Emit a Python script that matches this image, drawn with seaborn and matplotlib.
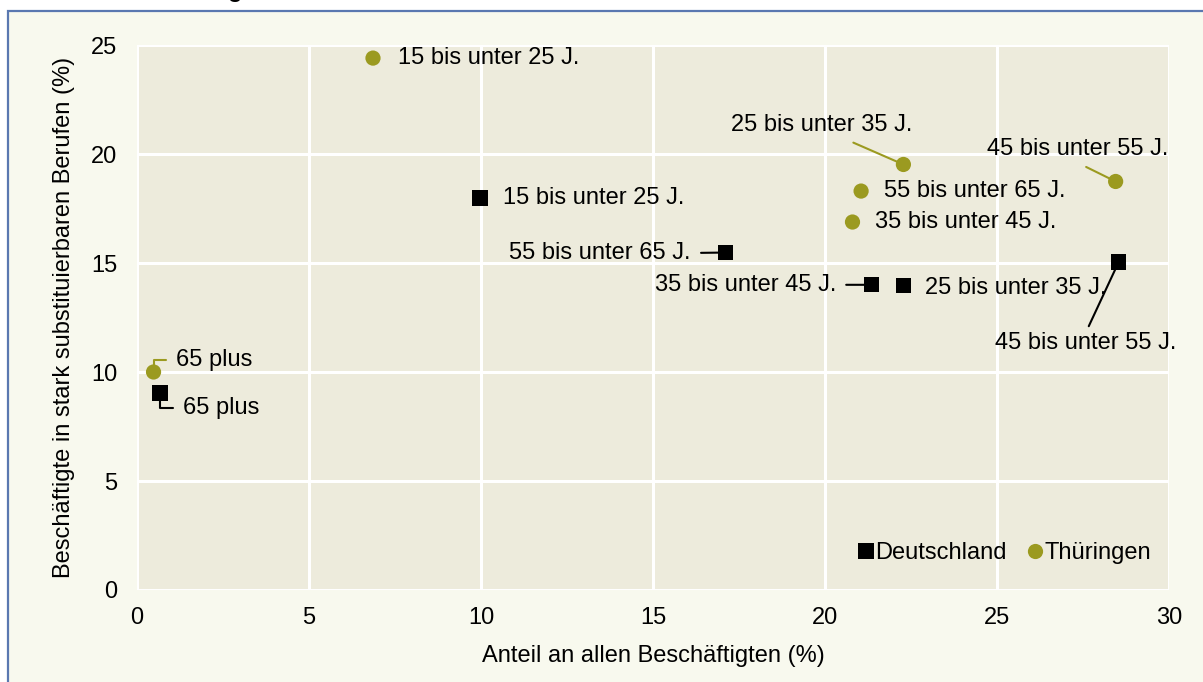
import pandas as pd
import matplotlib.pyplot as plt
import matplotlib.patches as mpatches
import seaborn as sns

# Daten
gruppen = ['15 bis unter 25 J.', '25 bis unter 35 J.', '35 bis unter 45 J.',
           '45 bis unter 55 J.', '55 bis unter 65 J.', '65 plus']
de_anteil = [9.97, 22.28, 21.35, 28.54, 17.10, 0.67]
de_subst = [17.98, 13.97, 14.0, 15.05, 15.48, 9.04]
th_anteil = [6.86, 22.28, 20.80, 28.45, 21.05, 0.48]
th_subst = [24.4, 19.52, 16.88, 18.74, 18.3, 10.0]

df = pd.concat([
    pd.DataFrame({'gruppe': gruppen, 'anteil': de_anteil, 'subst': de_subst, 'region': 'Deutschland'}),
    pd.DataFrame({'gruppe': gruppen, 'anteil': th_anteil, 'subst': th_subst, 'region': 'Thüringen'}),
], ignore_index=True)

sns.set_theme(style='whitegrid')
plt.rcParams['font.family'] = ['Liberation Sans', 'DejaVu Sans']
plt.rcParams['text.color'] = 'black'
plt.rcParams['axes.labelcolor'] = 'black'
fs = 17

oliv = '#9b9a20'
farben = {'Deutschland': 'black', 'Thüringen': oliv}

fig = plt.figure(figsize=(12.03, 6.82), dpi=100, facecolor='white')
ax = fig.add_axes([0.1139, 0.1349, 0.8578, 0.7991])

# Rahmen um die Grafik
rahmen = mpatches.Rectangle((0.0066, -0.05), 1.1, 1.0339, transform=fig.transFigure,
                            facecolor='#f8f9ee', edgecolor='#5a78b0', linewidth=1.6, zorder=-10)
fig.add_artist(rahmen)
fig.text(0.1953, 1.0044, 'g', ha='center', va='baseline', fontsize=fs, fontweight='bold')

sns.scatterplot(data=df, x='anteil', y='subst', hue='region', style='region',
                markers={'Deutschland': 's', 'Thüringen': 'o'}, palette=farben,
                s=120, linewidth=0, ax=ax, zorder=5)

ax.set_facecolor('#edebdc')
ax.grid(True, color='white', linewidth=2.2)
for s in ax.spines.values():
    s.set_visible(False)
ax.set_xlim(0, 30)
ax.set_ylim(0, 25)
ax.set_xticks(range(0, 31, 5))
ax.set_yticks(range(0, 26, 5))
ax.tick_params(axis='both', length=0, labelsize=fs, colors='black')
ax.tick_params(axis='y', pad=14)
ax.tick_params(axis='x', pad=12)
ax.set_xlabel('Anteil an allen Beschäftigten (%)', fontsize=fs, labelpad=12)
ax.set_ylabel('Beschäftigte in stark substituierbaren Berufen (%)', fontsize=fs, labelpad=12)

linie = dict(arrowstyle='-', lw=1.5, shrinkA=5, shrinkB=0)

# Beschriftungen Deutschland
ax.annotate(gruppen[0], xy=(de_anteil[0], de_subst[0]), xytext=(10.64, 17.98),
            ha='left', va='center', fontsize=fs)
ax.annotate(gruppen[1], xy=(de_anteil[1], de_subst[1]), xytext=(22.9, 13.85),
            ha='left', va='center', fontsize=fs)
ax.annotate(gruppen[2], xy=(de_anteil[2], de_subst[2]), xytext=(20.32, 14.0),
            ha='right', va='center', fontsize=fs,
            arrowprops=dict(linie, color='black', relpos=(1, 0.5)))
ax.annotate(gruppen[3], xy=(de_anteil[3], de_subst[3]), xytext=(27.59, 11.33),
            ha='center', va='center', fontsize=fs,
            arrowprops=dict(linie, color='black', relpos=(0.5, 1), shrinkA=2))
ax.annotate(gruppen[4], xy=(de_anteil[4], de_subst[4]), xytext=(16.1, 15.46),
            ha='right', va='center', fontsize=fs,
            arrowprops=dict(linie, color='black', relpos=(1, 0.5)))
ax.annotate(gruppen[5], xy=(de_anteil[5], de_subst[5]), xytext=(1.34, 8.35),
            ha='left', va='center', fontsize=fs,
            arrowprops=dict(linie, color='black', relpos=(0, 0.5),
                            connectionstyle='angle,angleA=0,angleB=90,rad=0'))

# Beschriftungen Thüringen
ax.annotate(gruppen[0], xy=(th_anteil[0], th_subst[0]), xytext=(7.59, 24.4),
            ha='left', va='center', fontsize=fs)
ax.annotate(gruppen[1], xy=(th_anteil[1], th_subst[1]), xytext=(19.91, 21.33),
            ha='center', va='center', fontsize=fs,
            arrowprops=dict(linie, color=oliv, relpos=(0.59, 0), shrinkA=6))
ax.annotate(gruppen[2], xy=(th_anteil[2], th_subst[2]), xytext=(21.45, 16.88),
            ha='left', va='center', fontsize=fs)
ax.annotate(gruppen[3], xy=(th_anteil[3], th_subst[3]), xytext=(27.34, 20.23),
            ha='center', va='center', fontsize=fs,
            arrowprops=dict(linie, color=oliv, relpos=(0.47, 0), shrinkA=6))
ax.annotate(gruppen[4], xy=(th_anteil[4], th_subst[4]), xytext=(21.72, 18.3),
            ha='left', va='center', fontsize=fs)
ax.annotate(gruppen[5], xy=(th_anteil[5], th_subst[5]), xytext=(1.13, 10.55),
            ha='left', va='center', fontsize=fs,
            arrowprops=dict(linie, color=oliv, relpos=(0, 0.5),
                            connectionstyle='angle,angleA=0,angleB=90,rad=0'))

handles, labels = ax.get_legend_handles_labels()
ax.legend(handles, labels, loc='center left', bbox_to_anchor=(0.688, 0.068), ncol=2,
          frameon=False, fontsize=fs, handlelength=0.6, handletextpad=0.1,
          columnspacing=0.9, borderpad=0, markerscale=1.0)

fig.savefig('out.png', dpi=100, facecolor=fig.get_facecolor())
